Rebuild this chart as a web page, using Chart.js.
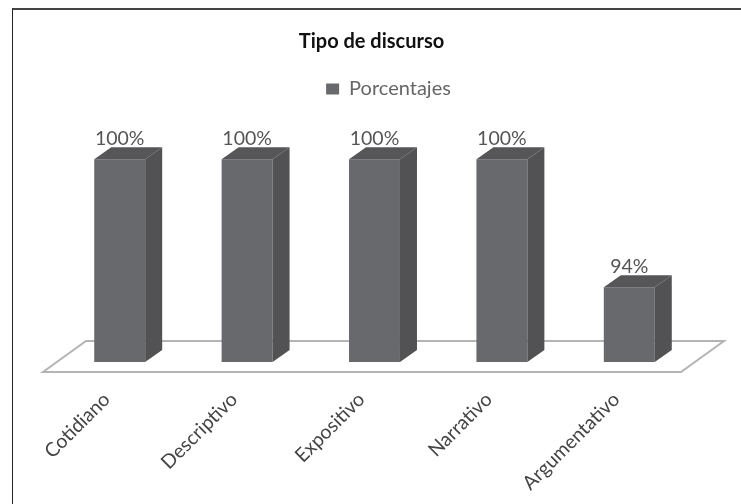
<!DOCTYPE html>
<html>
<head>
<meta charset="utf-8">
<style>
    html, body { margin: 0; padding: 0; background: #fff; overflow: hidden; }
    #frame { position: absolute; left: 12px; top: 8px; right: 0; bottom: 0; border-left: 1px solid #222; border-top: 2px solid #444; }
    #chart { position: absolute; left: 0; top: 0; display: block; }
</style>
<script src="https://cdn.jsdelivr.net/npm/chart.js@4/dist/chart.umd.min.js"></script>
</head>
<body>
<div id="frame"></div>
<canvas id="chart" width="741" height="504"></canvas>
<script>
const categories = ['Cotidiano', 'Descriptivo', 'Expositivo', 'Narrativo', 'Argumentativo'];
const porcentajes = [100, 100, 100, 100, 94];
const FONT = 'Lato, "Open Sans", sans-serif';
const DX = 17, DY = 12;

// caras laterales, suelo y etiquetas del efecto 3D
const box3d = {
    id: 'box3d',
    afterLayout(chart) {
        // el titulo y la leyenda no van centrados sobre el area
        chart.titleBlock.left -= 3;
        chart.titleBlock.right -= 3;
        chart.legend.left += 14;
        chart.legend.right += 14;
    },
    beforeDatasetsDraw(chart) {
        const c = chart.ctx, a = chart.chartArea;
        const f = a.bottom + 10;
        c.save();
        c.strokeStyle = '#b4b4b4';
        c.lineWidth = 2;
        c.beginPath();
        c.moveTo(a.left - 13, f);
        c.lineTo(a.right - 12, f);
        c.lineTo(a.right + 31, f - 31);
        c.lineTo(a.left + 30, f - 31);
        c.closePath();
        c.stroke();
        c.restore();
    },
    afterDatasetsDraw(chart) {
        const c = chart.ctx, a = chart.chartArea;
        c.save();
        chart.getDatasetMeta(0).data.forEach((b, i) => {
            const l = b.x - b.width / 2, r = b.x + b.width / 2;
            c.fillStyle = '#565658';
            c.beginPath();
            c.moveTo(l, b.y);
            c.lineTo(l + DX, b.y - DY);
            c.lineTo(r + DX, b.y - DY);
            c.lineTo(r, b.y);
            c.closePath();
            c.fill();
            c.fillStyle = '#525254';
            c.beginPath();
            c.moveTo(r, b.y);
            c.lineTo(r + DX, b.y - DY);
            c.lineTo(r + DX, a.bottom - DY);
            c.lineTo(r, a.bottom);
            c.closePath();
            c.fill();
            c.fillStyle = '#555';
            c.font = '19.5px ' + FONT;
            c.textAlign = 'center';
            c.textBaseline = 'alphabetic';
            c.fillText(porcentajes[i] + '%', b.x, b.y - 14);
        });
        c.restore();
    }
};

new Chart(document.getElementById('chart'), {
    type: 'bar',
    data: {
        labels: categories,
        datasets: [{
            label: 'Porcentajes',
            data: porcentajes,
            backgroundColor: '#68696c',
            barPercentage: 0.4,
            categoryPercentage: 1
        }]
    },
    options: {
        responsive: false,
        animation: false,
        devicePixelRatio: 1,
        layout: { padding: { left: 56, right: 48, top: 0, bottom: 0 } },
        plugins: {
            tooltip: { enabled: false },
            title: {
                display: true,
                text: 'Tipo de discurso',
                color: '#111',
                font: { family: FONT, size: 20, weight: 'bold' },
                padding: { top: 30, bottom: 15 }
            },
            legend: {
                display: true,
                labels: { color: '#666', boxWidth: 13, boxHeight: 11, padding: 10, font: { family: FONT, size: 20 } }
            }
        },
        scales: {
            x: {
                grid: { display: false },
                border: { display: false },
                afterFit(scale) { scale.height = 142; },
                ticks: { color: '#444', maxRotation: 45, minRotation: 45, font: { family: FONT, size: 19.5 }, padding: 18, labelOffset: -13 }
            },
            y: {
                display: false,
                min: 90.5,
                max: 102.36
            }
        }
    },
    plugins: [box3d]
});
</script>
</body>
</html>
